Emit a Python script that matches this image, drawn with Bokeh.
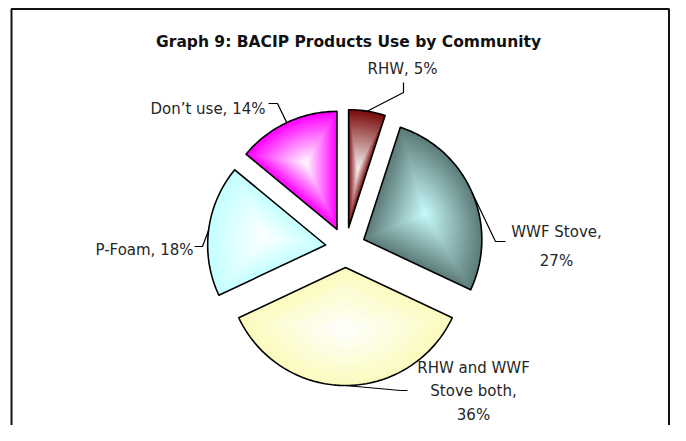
import textwrap
import numpy as np
from bokeh.plotting import figure
from bokeh.models import Range1d, ColumnDataSource
from bokeh.embed import file_html
from bokeh.resources import INLINE
from bokeh.core.properties import value

# ---------------- data ----------------
title_text = "Graph 9: BACIP Products Use by Community"
categories = ["RHW", "WWF Stove", "RHW and WWF Stove both", "P-Foam", "Don\u2019t use"]
shares = [5, 27, 36, 18, 14]

# ---------------- style / layout ----------------
edge_colors = ["#7b0c0c", "#5d7c79", "#fbfbbe", "#c4ffff", "#ff00ff"]
center_colors = ["#faf6f6", "#c8fcfc", "#ffffff", "#ffffff", "#ffffff"]
focus_frac = [0.50, 0.56, 0.52, 0.52, 0.62]
wrap_width = [None, 11, 11, None, None]
# leader elbow / end points and text anchors (picture pixel coordinates)
leader_elbow = [(403, 92), (495, 241), (400, 390), (202, 246), (277, 103)]
leader_end = [(403, 82), (505, 241), (407, 390), (194, 246), (268, 103)]
text_anchor = [(402, 68), (556, 231), (473, 367), (193, 249), (265, 108)]
text_align = ["center", "center", "center", "right", "right"]
line_gap = [0, 29, 23.5, 0, 0]

CX, CY, R, EXPLODE = 345.0, 247.0, 118.0, 20.0
FONT = "DejaVu Sans"
TXT = "#262626"
W, H = 670, 425

p = figure(width=W, height=H, x_range=Range1d(0, W), y_range=Range1d(H, 0),
           output_backend="svg", toolbar_location=None, min_border=0,
           x_axis_location=None, y_axis_location=None)
p.grid.visible = False
p.outline_line_color = None
p.background_fill_color = "white"
p.border_fill_color = "white"

# frame border (open at the bottom, as in the reference)
p.line([11, 11, W - 1.5, W - 1.5], [H, 8.5, 8.5, H], line_color="#111111", line_width=2)


def hex2rgb(h):
    h = h.lstrip("#")
    return np.array([int(h[i:i + 2], 16) for i in (0, 2, 4)], dtype=float)


def rgb2hex(c):
    c = np.clip(np.round(c), 0, 255).astype(int)
    return "#%02x%02x%02x" % tuple(c)


total = float(sum(shares))
fracs = np.array(shares) / total
ends = np.cumsum(fracs) * 2 * np.pi
starts = ends - fracs * 2 * np.pi

grad_xs, grad_ys, grad_cols = [], [], []
out_xs, out_ys = [], []
lead_xs, lead_ys = [], []
txt_x, txt_y, txt_s, txt_a = [], [], [], []

for i, (cat, sh) in enumerate(zip(categories, shares)):
    a0, a1 = starts[i], ends[i]
    mid = 0.5 * (a0 + a1)
    sx = CX + EXPLODE * np.sin(mid)
    sy = CY - EXPLODE * np.cos(mid)
    n = max(8, int(200 * fracs[i]))
    ang = np.linspace(a0, a1, n)
    px = np.concatenate([[sx], sx + R * np.sin(ang)])
    py = np.concatenate([[sy], sy - R * np.cos(ang)])
    out_xs.append(list(px))
    out_ys.append(list(py))

    # path gradient (edge colour -> centre colour) by shrinking layers
    fx = sx + focus_frac[i] * R * np.sin(mid)
    fy = sy - focus_frac[i] * R * np.cos(mid)
    ce, cc = hex2rgb(edge_colors[i]), hex2rgb(center_colors[i])
    for k in np.linspace(1.0, 0.03, 40):
        t = 1.0 - k
        grad_xs.append(list(fx + k * (px - fx)))
        grad_ys.append(list(fy + k * (py - fy)))
        grad_cols.append(rgb2hex(ce + (cc - ce) * t))

    # leader line from arc at mid-angle
    ax = sx + R * np.sin(mid)
    ay = sy - R * np.cos(mid)
    lead_xs.append([ax, leader_elbow[i][0], leader_end[i][0]])
    lead_ys.append([ay, leader_elbow[i][1], leader_end[i][1]])

    full = f"{cat}, {sh}%"
    lines = textwrap.wrap(full, wrap_width[i]) if wrap_width[i] else [full]
    for j, ln in enumerate(lines):
        txt_x.append(text_anchor[i][0])
        txt_y.append(text_anchor[i][1] + j * line_gap[i])
        txt_s.append(ln)
        txt_a.append(text_align[i])

p.patches(grad_xs, grad_ys, fill_color=grad_cols, line_color=None)
p.patches(out_xs, out_ys, fill_color=None, line_color="#000000", line_width=1.6,
          line_join="round")
p.multi_line(lead_xs, lead_ys, line_color="#000000", line_width=1.2)

src = ColumnDataSource(dict(x=txt_x, y=txt_y, text=txt_s, align=txt_a))
p.text(x="x", y="y", text="text", source=src, text_align="align",
       text_baseline="alphabetic", text_font=value(FONT), text_font_size="15px",
       text_color=TXT)

p.text(x=[348], y=[41], text=[title_text], text_align="center",
       text_baseline="alphabetic", text_font=value(FONT), text_font_size="15.5px",
       text_font_style="bold", text_color="#111111")

open("out.html", "w").write(file_html(p, INLINE))
